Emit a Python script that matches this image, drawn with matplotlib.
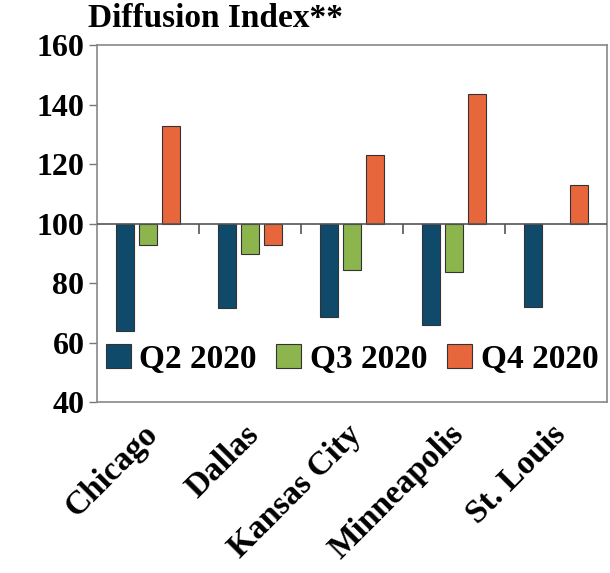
import numpy as np
import matplotlib
matplotlib.use("Agg")
import matplotlib.pyplot as plt
from matplotlib.transforms import ScaledTranslation

# values (diffusion index, 100 = no change)
cities = ["Chicago", "Dallas", "Kansas City", "Minneapolis", "St. Louis"]
q2_2020 = [64.0, 71.8, 68.7, 66.1, 72.1]
q3_2020 = [93.0, 90.0, 84.3, 83.7, np.nan]
q4_2020 = [133.0, 92.8, 123.2, 143.5, 113.0]
series_names = ["Q2 2020", "Q3 2020", "Q4 2020"]
yticks = [40, 60, 80, 100, 120, 140, 160]

colors = ["#0f4a6b", "#8db54e", "#e8663c"]
base = 100

plt.rcParams['font.family'] = ['Liberation Serif', 'DejaVu Serif']
plt.rcParams['font.weight'] = 'bold'

fig = plt.figure(figsize=(6.1, 5.73), dpi=100)
ax = fig.add_axes([0.159, 0.298, 0.836, 0.623])

x = np.arange(len(cities))
width = 0.18
step = 0.225
for i, (vals, name, c) in enumerate(zip([q2_2020, q3_2020, q4_2020], series_names, colors)):
    v = np.array(vals, dtype=float)
    ax.bar(x + (i - 1) * step, v - base, width, bottom=base, color=c,
           edgecolor="#333333", linewidth=0.8, label=name, zorder=3)

# category axis crosses at 100
ax.axhline(base, color="#555555", linewidth=1.2, zorder=4)
bounds = np.arange(len(cities) - 1) + 0.5
ax.vlines(bounds, base - 3.3, base, color="#555555", linewidth=1.2, zorder=4)

ax.set_xlim(-0.5, len(cities) - 0.5)
ax.set_ylim(40, 160)
ax.set_yticks(yticks)
ax.tick_params(axis='y', labelsize=23, length=6, width=1, color="#777777", pad=3)
ax.set_xticks(x)
ax.set_xticklabels(cities, rotation=45, ha='right', rotation_mode='anchor', fontsize=24)
ax.tick_params(axis='x', length=0, pad=12)
shift = ScaledTranslation(-6 / 100, 0, fig.dpi_scale_trans)
for lab in ax.get_xticklabels():
    lab.set_transform(lab.get_transform() + shift)
for sp in ax.spines.values():
    sp.set_color("#888888")
    sp.set_linewidth(1.2)

leg = ax.legend(loc='lower center', bbox_to_anchor=(0.5, 0.04), ncol=3, frameon=False,
                fontsize=24, handlelength=0.75, handleheight=0.75, handletextpad=0.25,
                columnspacing=0.6, borderaxespad=0)
for h in leg.legend_handles:
    h.set_edgecolor("#333333")

fig.text(0.145, 0.968, "Diffusion Index**", fontsize=24, fontweight='bold', va='center', ha='left')

fig.savefig("out.png", dpi=100)
